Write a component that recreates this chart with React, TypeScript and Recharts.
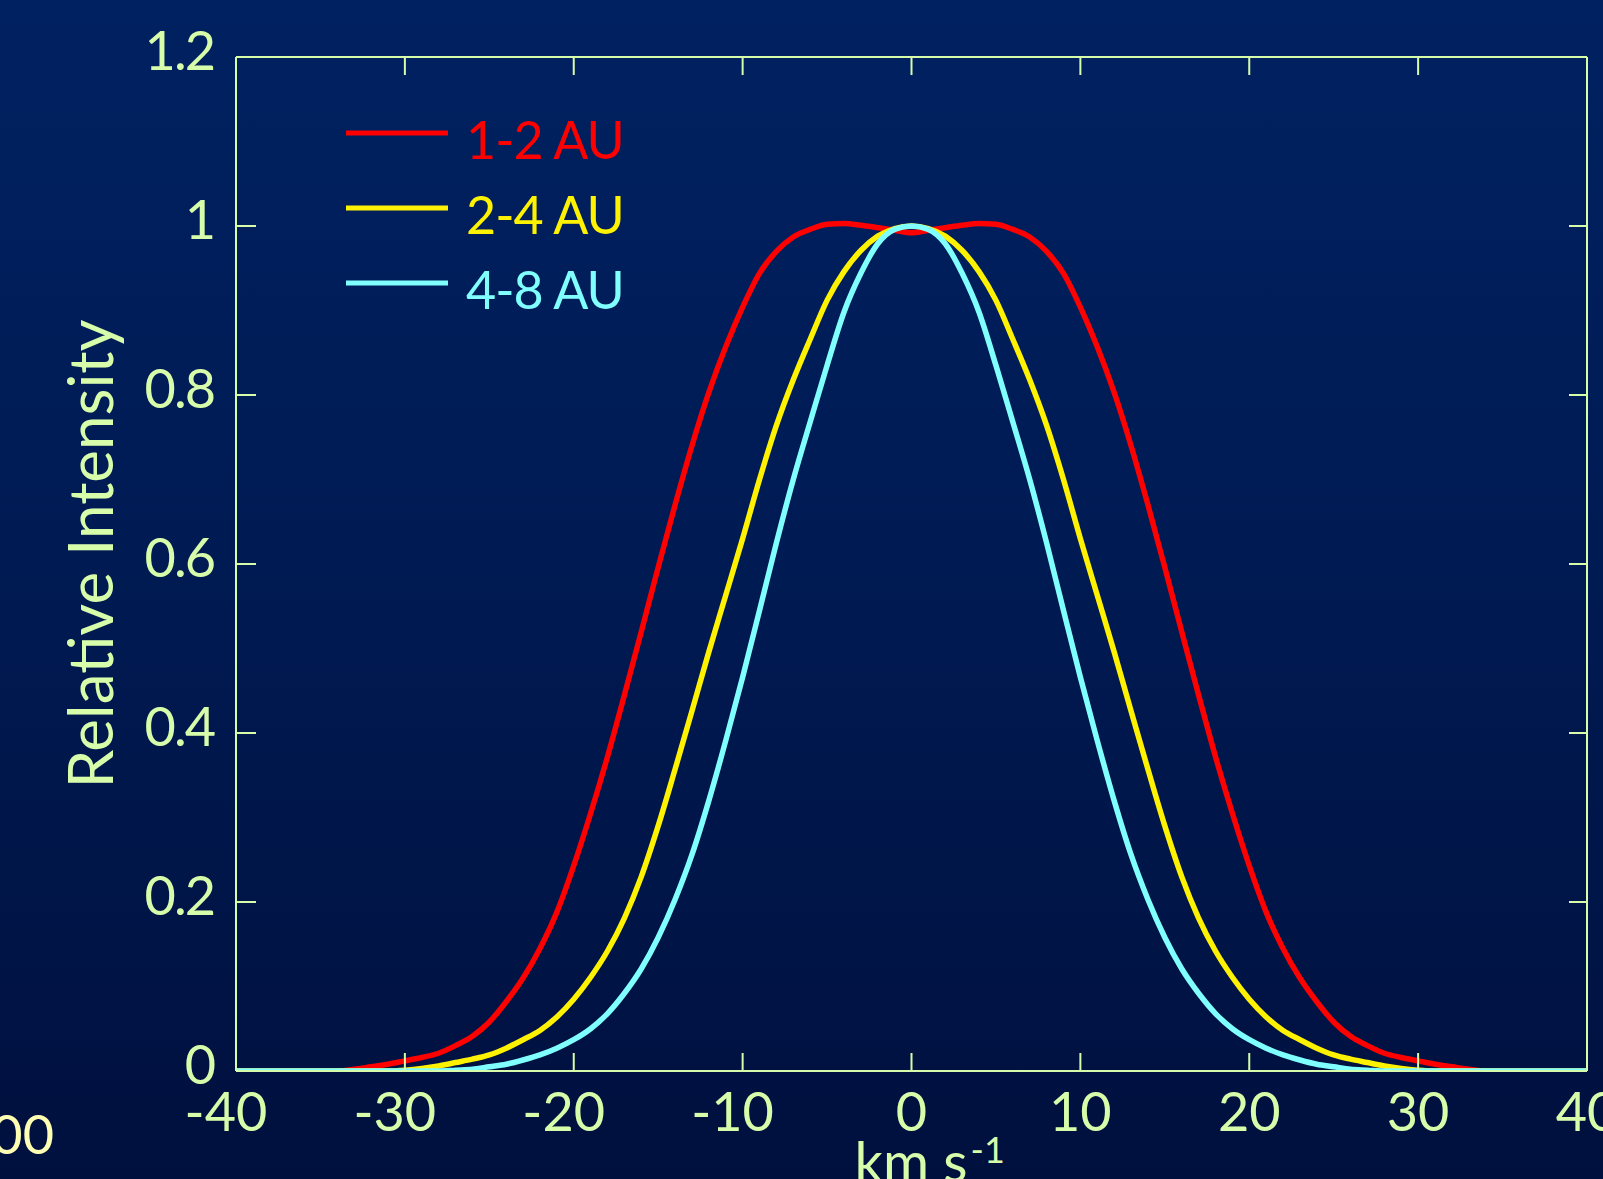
import React from 'react';
import { LineChart, Line, XAxis, YAxis, Legend } from 'recharts';

// ---------- data ----------
const velocity = [
  -40, -39, -38, -37, -36, -35, -34, -33, -32, -31, -30, -29, -28, -27, -26, -25, -24, -23, -22, -21,
  -20, -19, -18, -17, -16, -15, -14, -13, -12, -11, -10, -9, -8, -7, -6, -5, -4, -3, -2, -1,
  0,
  1, 2, 3, 4, 5, 6, 7, 8, 9, 10, 11, 12, 13, 14, 15, 16, 17, 18, 19, 20,
  21, 22, 23, 24, 25, 26, 27, 28, 29, 30, 31, 32, 33, 34, 35, 36, 37, 38, 39, 40,
];

const au1to2 = [
  0, 0, 0, 0, 0, 0, 0,
  0.002, 0.005, 0.008, 0.012, 0.016, 0.021, 0.030, 0.041, 0.058, 0.082, 0.110, 0.145, 0.188, 0.243,
  0.305, 0.372, 0.445, 0.520, 0.596, 0.670, 0.740, 0.803, 0.857, 0.904, 0.944, 0.970, 0.987, 0.996,
  1.002, 1.003, 1.001, 0.998, 0.995,
  0.992,
  0.995, 0.998, 1.001, 1.003, 1.002, 0.996, 0.987, 0.970, 0.944, 0.904, 0.857, 0.803, 0.740, 0.670,
  0.596, 0.520, 0.445, 0.372, 0.305, 0.243, 0.188, 0.145, 0.110, 0.082, 0.058, 0.041, 0.030, 0.021,
  0.016, 0.012, 0.008, 0.005, 0.002,
  0, 0, 0, 0, 0, 0, 0,
];

const au2to4 = [
  0, 0, 0, 0, 0, 0, 0, 0, 0, 0,
  0.001, 0.003, 0.006, 0.010, 0.014, 0.019, 0.027, 0.037, 0.048, 0.064, 0.085, 0.111, 0.142, 0.181,
  0.230, 0.290, 0.357, 0.426, 0.496, 0.563, 0.630, 0.700, 0.764, 0.818, 0.866, 0.912, 0.946, 0.971,
  0.988, 0.997,
  1.0,
  0.997, 0.988, 0.971, 0.946, 0.912, 0.866, 0.818, 0.764, 0.700, 0.630, 0.563, 0.496, 0.426, 0.357,
  0.290, 0.230, 0.181, 0.142, 0.111, 0.085, 0.064, 0.048, 0.037, 0.027, 0.019, 0.014, 0.010, 0.006,
  0.003, 0.001,
  0, 0, 0, 0, 0, 0, 0, 0, 0, 0,
];

const au4to8 = [
  0, 0, 0, 0, 0, 0, 0, 0, 0, 0, 0, 0, 0,
  0.001, 0.002, 0.005, 0.008, 0.013, 0.019, 0.027, 0.037, 0.050, 0.068, 0.092, 0.121, 0.158, 0.203,
  0.256, 0.320, 0.391, 0.466, 0.545, 0.625, 0.700, 0.768, 0.835, 0.898, 0.944, 0.979, 0.996,
  1.0,
  0.996, 0.979, 0.944, 0.898, 0.835, 0.768, 0.700, 0.625, 0.545, 0.466, 0.391, 0.320, 0.256, 0.203,
  0.158, 0.121, 0.092, 0.068, 0.050, 0.037, 0.027, 0.019, 0.013, 0.008, 0.005, 0.002, 0.001,
  0, 0, 0, 0, 0, 0, 0, 0, 0, 0, 0, 0, 0,
];

const seriesNames = ['1-2 AU', '2-4 AU', '4-8 AU'];
const seriesColors = ['#ff0000', '#fff200', '#80ffff'];
const xTicks = [-40, -30, -20, -10, 0, 10, 20, 30, 40];
const yTicks = [0, 0.2, 0.4, 0.6, 0.8, 1, 1.2];
const xAxisTitle = 'km s';
const xAxisTitleSup = '-1';
const yAxisTitle = 'Relative Intensity';
const cornerRemnant = '00';

const data = velocity.map((v, i) => ({ v, a: au1to2[i], b: au2to4[i], c: au4to8[i] }));

// ---------- styling ----------
const AXIS = '#d7fcaa';
const FONT = 'Lato, "Open Sans", sans-serif';
const TICK_FS = 54;

function BottomTick(props: any) {
  const { x, y, payload } = props;
  const label = String(payload.value);
  const digits = label.replace('-', '');
  const half = digits.length * 0.29 * TICK_FS;
  return (
    <g>
      <line x1={x} y1={y} x2={x} y2={y - 18} stroke={AXIS} strokeWidth={2} />
      <text x={x + half} y={y + 60} textAnchor="end" fill={AXIS} fontSize={TICK_FS} fontFamily={FONT}>
        {label}
      </text>
    </g>
  );
}

function TopTick(props: any) {
  const { x, y } = props;
  return <line x1={x} y1={y} x2={x} y2={y + 18} stroke={AXIS} strokeWidth={2} />;
}

function LeftTick(props: any) {
  const { x, y, payload } = props;
  return (
    <g>
      <line x1={x} y1={y} x2={x + 20} y2={y} stroke={AXIS} strokeWidth={2} />
      <text x={x - 22} y={y + 13} textAnchor="end" fill={AXIS} fontSize={TICK_FS} fontFamily={FONT} letterSpacing={-2}>
        {String(payload.value)}
      </text>
    </g>
  );
}

function RightTick(props: any) {
  const { x, y } = props;
  return <line x1={x} y1={y} x2={x - 18} y2={y} stroke={AXIS} strokeWidth={2} />;
}

const renderYTitle = (props: any) => {
  const vb = props.viewBox || { x: 0, y: 57, width: 236, height: 1014 };
  const cx = vb.x + 113;
  const cy = vb.y + vb.height / 2 - 10;
  return (
    <text
      x={cx}
      y={cy}
      transform={`rotate(-90, ${cx}, ${cy})`}
      textAnchor="middle"
      fill={AXIS}
      fontSize={62}
      fontFamily={FONT}
    >
      {yAxisTitle}
    </text>
  );
};

const renderXTitle = (props: any) => {
  const vb = props.viewBox || { x: 236, y: 1071, width: 1351, height: 108 };
  const x0 = vb.x + vb.width / 2 - 57;
  return (
    <g>
      <text x={x0} y={vb.y + 111} fill={AXIS} fontSize={56} fontFamily={FONT}>
        {xAxisTitle}
        <tspan dx={3} dy={-19} fontSize={36}>
          {xAxisTitleSup}
        </tspan>
      </text>
      <text x={54} y={vb.y + 83} textAnchor="end" fill="#ffffb4" fontSize={TICK_FS} fontFamily={FONT}>
        {cornerRemnant}
      </text>
    </g>
  );
};

const renderLegend = (props: any) => {
  const payload = props.payload || [];
  return (
    <svg width={700} height={340} style={{ display: 'block', overflow: 'visible' }}>
      {payload.map((entry: any, i: number) => {
        const ly = 133 + i * 75;
        return (
          <g key={i}>
            <line x1={346} x2={448} y1={ly} y2={ly} stroke={entry.color} strokeWidth={5} />
            <text x={466} y={ly + 26} fill={entry.color} fontSize={52} fontFamily={FONT} letterSpacing={-1}>
              {entry.value}
            </text>
          </g>
        );
      })}
    </svg>
  );
};

export default function App() {
  return (
    <div
      style={{
        position: 'absolute',
        left: 0,
        top: 0,
        width: 1603,
        height: 1179,
        overflow: 'hidden',
        background: 'linear-gradient(180deg, #002161 0%, #001b54 45%, #00103e 100%)',
      }}
    >
      <LineChart width={1603} height={1179} data={data} margin={{ top: 56, right: 15, bottom: 0, left: 0 }}>
        <XAxis
          dataKey="v"
          type="number"
          domain={[-40, 40]}
          ticks={xTicks}
          interval={0}
          allowDataOverflow
          height={108}
          axisLine={{ stroke: AXIS, strokeWidth: 2 }}
          tickLine={false}
          tickSize={0}
          tickMargin={0}
          tick={<BottomTick />}
          label={renderXTitle}
        />
        <XAxis
          xAxisId="top"
          orientation="top"
          dataKey="v"
          type="number"
          domain={[-40, 40]}
          ticks={xTicks}
          interval={0}
          allowDataOverflow
          height={1}
          axisLine={{ stroke: AXIS, strokeWidth: 2 }}
          tickLine={false}
          tickSize={0}
          tickMargin={0}
          tick={<TopTick />}
        />
        <YAxis
          type="number"
          domain={[0, 1.2]}
          ticks={yTicks}
          interval={0}
          allowDataOverflow
          width={236}
          axisLine={{ stroke: AXIS, strokeWidth: 2 }}
          tickLine={false}
          tickSize={0}
          tickMargin={0}
          tick={<LeftTick />}
          label={renderYTitle}
        />
        <YAxis
          yAxisId="right"
          orientation="right"
          type="number"
          domain={[0, 1.2]}
          ticks={yTicks}
          interval={0}
          allowDataOverflow
          width={1}
          axisLine={{ stroke: AXIS, strokeWidth: 2 }}
          tickLine={false}
          tickSize={0}
          tickMargin={0}
          tick={<RightTick />}
        />
        <Legend
          layout="vertical"
          align="center"
          verticalAlign="middle"
          content={renderLegend}
          wrapperStyle={{ position: 'absolute', left: 0, top: 0, width: 700, height: 340 }}
        />
        <Line type="monotone" dataKey="a" name={seriesNames[0]} stroke={seriesColors[0]} strokeWidth={5.5} dot={false} activeDot={false} isAnimationActive={false} />
        <Line type="monotone" dataKey="b" name={seriesNames[1]} stroke={seriesColors[1]} strokeWidth={5.5} dot={false} activeDot={false} isAnimationActive={false} />
        <Line type="monotone" dataKey="c" name={seriesNames[2]} xAxisId="top" yAxisId="right" stroke={seriesColors[2]} strokeWidth={5.5} dot={false} activeDot={false} isAnimationActive={false} />
      </LineChart>
    </div>
  );
}
